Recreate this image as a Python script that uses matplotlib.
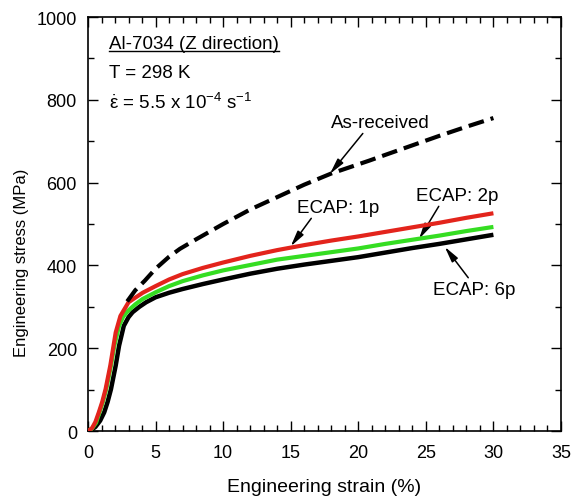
import matplotlib
matplotlib.use("Agg")
import matplotlib.pyplot as plt
from matplotlib.lines import Line2D

plt.rcParams['font.family'] = ['Liberation Sans', 'DejaVu Sans']
plt.rcParams['mathtext.fontset'] = 'custom'
plt.rcParams['mathtext.rm'] = 'Liberation Sans'
plt.rcParams['mathtext.it'] = 'Liberation Sans:italic'

# ECAP: 6p (black)
strain_6p = [0, 0.3, 0.55, 0.9, 1.2, 1.45, 1.7, 2.05, 2.3, 2.65, 3.0, 3.3, 3.8, 4.3,
             5.0, 6.0, 7.0, 8.5, 10, 12, 14, 16, 18, 20, 22, 24, 26, 28, 30]
stress_6p = [0, 4, 10, 25, 45, 70, 101, 158, 206, 254, 275, 287, 300, 311,
             323, 334, 343, 355, 366, 380, 392, 402, 411, 420, 431, 442, 452, 463, 474]

# ECAP: 2p (green)
strain_2p = [0, 0.3, 0.6, 0.85, 1.1, 1.35, 1.7, 1.95, 2.3, 2.6, 2.95, 3.5, 4.05,
             5.0, 6.0, 7.0, 8.5, 10, 12, 14, 16, 18, 20, 22, 24, 26, 28, 30]
stress_2p = [0, 6, 20, 45, 70, 101, 158, 206, 254, 276, 290, 306, 319,
             335, 350, 362, 376, 388, 401, 414, 423, 432, 441, 452, 462, 472, 483, 493]

# ECAP: 1p (red)
strain_1p = [0, 0.3, 0.55, 0.8, 1.05, 1.3, 1.65, 2.05, 2.4, 3.0, 3.45, 4.05,
             5.0, 6.0, 7.0, 8.5, 10, 12, 14, 16, 18, 20, 22, 24, 26, 28, 30]
stress_1p = [0, 7, 22, 45, 70, 101, 158, 238, 278, 311, 321, 334,
             350, 366, 379, 394, 407, 423, 437, 449, 460, 470, 481, 492, 503, 515, 526]

# As-received (dashed)
strain_ar = [2.9, 3.5, 4.2, 5.0, 6.0, 6.8, 8, 10, 12, 14.2, 16, 18, 20.8,
             22, 24, 26, 28, 30]
stress_ar = [313, 340, 363, 392, 421, 440, 463, 500, 535, 568, 595, 622, 653,
             667, 690, 713, 735, 756]

fig = plt.figure(figsize=(5.74, 5.02), dpi=100)
ax = fig.add_axes([0.1533, 0.1394, 0.824, 0.8247])

ax.plot(strain_6p, stress_6p, color='black', lw=3.2, solid_capstyle='butt', zorder=3)
ax.plot(strain_2p, stress_2p, color='#35dd22', lw=3.0, solid_capstyle='butt', zorder=4)
ax.plot(strain_1p, stress_1p, color='#e3241c', lw=3.0, solid_capstyle='butt', zorder=5)
ax.plot(strain_ar, stress_ar, color='black', lw=3.0, dashes=(3.8, 1.7),
        dash_capstyle='butt', zorder=6)

ax.set_xlim(0, 35)
ax.set_ylim(0, 1000)
ax.set_xticks(range(0, 36, 5))
ax.set_xticks(range(0, 36, 1), minor=True)
ax.set_yticks(range(0, 1001, 200))
ax.set_yticks(range(0, 1001, 100), minor=True)
ax.tick_params(which='both', direction='in', top=True, right=True, labelsize=13)
ax.tick_params(which='major', length=7, width=1)
ax.tick_params(which='minor', length=4, width=1)
ax.tick_params(axis='x', pad=9)
ax.tick_params(axis='y', pad=8)
for s in ax.spines.values():
    s.set_linewidth(1.2)

ax.set_xlabel('Engineering strain (%)', fontsize=14, va='center')
ax.set_ylabel('Engineering stress (MPa)', fontsize=12, va='center')
ax.xaxis.set_label_coords(0.5, -0.135)
ax.yaxis.set_label_coords(-0.14, 0.408)

# condition box text
t1 = ax.text(1.55, 935, 'Al-7034 (Z direction)', fontsize=13.5, va='center', ha='left')
ax.text(1.55, 867, 'T = 298 K', fontsize=13.5, va='center', ha='left')
ax.text(1.55, 795, r'$\dot{\mathrm{\varepsilon}}$ = 5.5 x 10$^{-4}$ s$^{-1}$',
        fontsize=13.5, va='center', ha='left')

arrow = dict(arrowstyle='-|>,head_length=0.7,head_width=0.16', color='black',
             lw=1.1, shrinkA=0, shrinkB=0)
ax.annotate('As-received', xy=(17.9, 621), xytext=(21.6, 746), fontsize=13.5,
            ha='center', va='center', arrowprops=dict(arrow, relpos=(0.35, 0)))
ax.annotate('ECAP: 1p', xy=(15.0, 446), xytext=(18.5, 541), fontsize=13.5,
            ha='center', va='center', arrowprops=dict(arrow, relpos=(0.2, 0)))
ax.annotate('ECAP: 2p', xy=(24.5, 464), xytext=(27.3, 570), fontsize=13.5,
            ha='center', va='center', arrowprops=dict(arrow, relpos=(0.3, 0)))
ax.annotate('ECAP: 6p', xy=(26.4, 445), xytext=(28.6, 343), fontsize=13.5,
            ha='center', va='center', arrowprops=dict(arrow, relpos=(0.45, 1)))

# underline the alloy title
fig.canvas.draw()
bb = t1.get_window_extent().transformed(fig.transFigure.inverted())
fig.add_artist(Line2D([bb.x0, bb.x1], [bb.y0 + 0.003, bb.y0 + 0.003],
                      transform=fig.transFigure, color='black', lw=1.0))

fig.savefig('out.png', dpi=100)
